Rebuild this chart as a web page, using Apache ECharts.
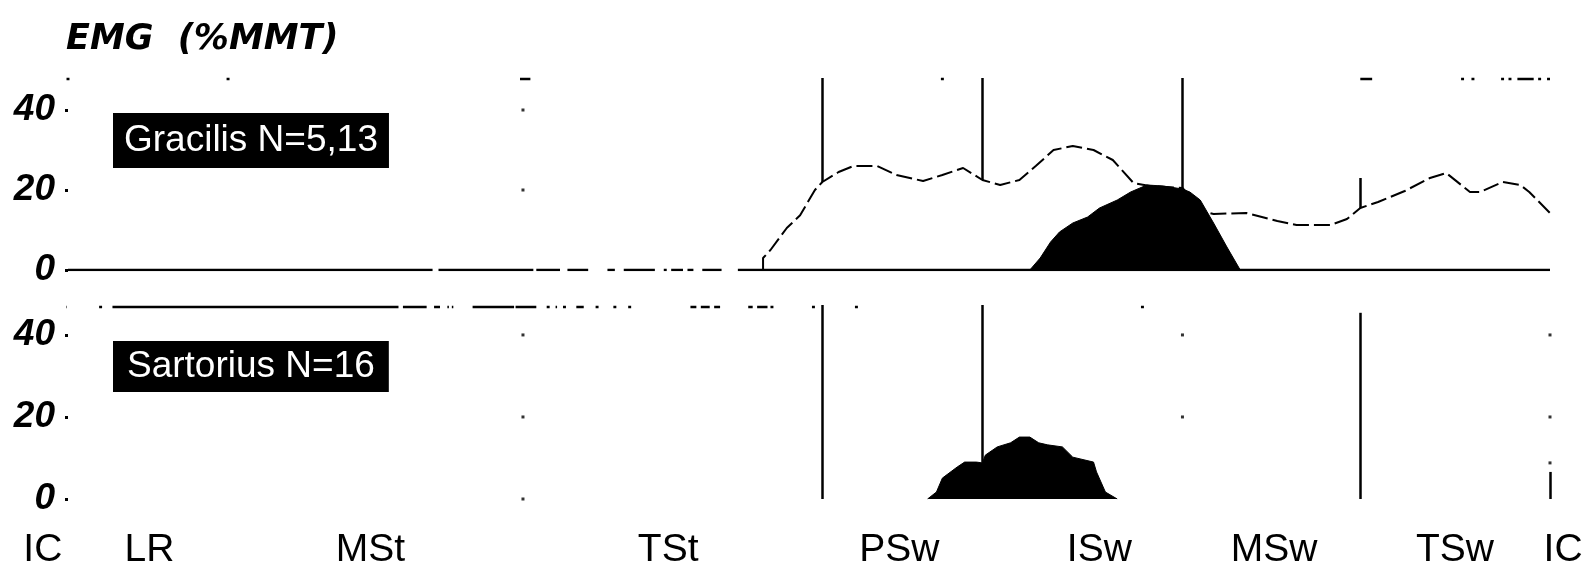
<!DOCTYPE html>
<html>
<head>
<meta charset="utf-8">
<script src="https://cdn.jsdelivr.net/npm/echarts@6/dist/echarts.min.js"></script>
<style>html,body{margin:0;padding:0;background:#fff}#c{width:1596px;height:570px}</style>
</head>
<body>
<div id="c"></div>
<script>
// ---- data (x = % gait cycle, y = EMG %MMT) ----
const phaseLabels = ['IC', 'LR', 'MSt', 'TSt', 'PSw', 'ISw', 'MSw', 'TSw', 'IC'];
const phaseLabelPos = [-1.7, 5.5, 20.4, 40.5, 56.1, 69.6, 81.4, 93.6, 100.9];
const yTicks = [0, 20, 40];

const gracilisLine = [
  [46.9, 0], [46.9, 3], [47.4, 5], [48.5, 10.5], [49.4, 13.7], [50.4, 20], [50.9, 22],
  [52, 24.5], [53, 26], [54.6, 26], [55.9, 23.75], [57.7, 22.25], [59, 23.75], [60.4, 25.5],
  [61.7, 22.5], [62.9, 21.25], [64.2, 22.5], [65.3, 26], [66.5, 30], [67.8, 31], [69.2, 30],
  [70.5, 27.5], [71.9, 21.75], [73, 21], [75.2, 20.5], [76.4, 15.5], [76.8, 14.5], [77.3, 14],
  [79.5, 14.25], [81.6, 12.25], [82.9, 11.25], [85.2, 11.25], [86.3, 12.75], [87.2, 15.5],
  [88.4, 17], [90.2, 19.75], [91.9, 23], [93, 24.25], [94.6, 19.5], [95.3, 19.5], [96.8, 22],
  [98, 21.25], [98.6, 19.5], [100, 14.25]
];
const gracilisArea = [
  [64.9, 0], [65.6, 3], [66.3, 7], [66.9, 9.5], [67.8, 11.75], [68.8, 13.25], [69.6, 15.5],
  [70.8, 17.5], [71.7, 19.5], [72.8, 21.25], [73.9, 21], [75.2, 20.25], [75.7, 19.5],
  [76.4, 17.5], [77.3, 11.75], [78.2, 5.75], [79.1, 0]
];
const sartoriusArea = [
  [58.0, 0], [58.6, 1.7], [59.0, 5.1], [60.0, 7.8], [60.5, 9], [61.3, 9], [61.7, 8.8],
  [61.9, 10.7], [62.7, 12.7], [63.6, 13.7], [64.2, 15.1], [64.9, 15.1], [65.5, 13.7],
  [66.1, 13.2], [67.1, 12.7], [67.8, 10.2], [69.2, 9], [69.4, 6.6], [70.0, 1.7], [70.8, 0]
];
// phase boundary lines: [x, yFrom, yTo]
const topBoundaryLines = [[50.9, 48, 22], [61.7, 48, 22.5], [75.2, 48, 20.5], [87.2, 23, 15.5]];
const bottomBoundaryLines = [[50.9, 47.3, 0], [61.7, 47.3, 8.8], [87.2, 45.4, 0], [100, 6.6, 0]];
// printed (partly faded) border / baseline pieces: [xFrom, xTo]
const topBaselinePieces = [[0, 24.6], [25, 31.4], [31.6, 33.2], [33.7, 35.1], [36.4, 36.9], [37.5, 39.6],
  [40.2, 40.4], [40.7, 41.5], [41.8, 42.2], [42.8, 44.1], [45.2, 100]];
const topBorderPieces = [[-0.1, 0.1], [10.7, 10.9], [30.5, 31.2], [58.9, 59.1], [87.2, 88.0], [94.0, 94.2],
  [94.7, 94.9], [96.7, 96.9], [97.2, 97.4], [97.8, 98.9], [99.2, 99.4], [99.8, 100]];
const bottomBorderPieces = [[-0.3, -0.1], [2.1, 2.3], [3.0, 22.3], [22.6, 24.2], [24.7, 25.1], [25.6, 25.7],
  [25.9, 26.0], [27.3, 30.1], [30.2, 31.6], [32.3, 32.5], [32.9, 33.0], [33.4, 33.6], [34.3, 34.8],
  [35.6, 35.8], [36.8, 37.0], [37.8, 38.0], [42.0, 42.4], [42.7, 43.3], [43.6, 44.0], [45.9, 46.2],
  [46.5, 47.2], [47.4, 47.6], [50.2, 50.4], [53.1, 53.3], [72.4, 72.6]];
const topBorderY = 47.75, bottomBorderY = 46.8;
const topDots = [[30.7, 40], [30.7, 20]];
const bottomDots = [[30.7, 40], [30.7, 20], [30.7, 0], [75.2, 40], [75.2, 20], [100, 40], [100, 20], [100, 8.8]];

// ---- build ----
function pieces(list, y) {
  const out = [];
  list.forEach(([a, b]) => { out.push([a, y], [b, y], [b, null]); });
  return out;
}
function vlines(list) {
  return list.map(([x, a, b]) => [{ coord: [x, a] }, { coord: [x, b] }]);
}
const BLACK = '#000';
const yLabelStyle = { fontFamily: 'Liberation Sans', fontWeight: 'bold', fontStyle: 'italic', fontSize: 37, color: BLACK, margin: 13 };
function yAxis(gridIndex, max) {
  return {
    type: 'value', gridIndex, min: 0, max, interval: 20,
    axisLine: { show: false }, splitLine: { show: false },
    axisTick: { show: true, length: 3, lineStyle: { width: 3, color: BLACK }, customValues: yTicks },
    axisLabel: Object.assign({ customValues: yTicks }, yLabelStyle)
  };
}
const hiddenX = (gridIndex) => ({ type: 'value', gridIndex, min: 0, max: 100, show: false });
const lineSeries = (xi, data, extra) => Object.assign({
  type: 'line', xAxisIndex: xi, yAxisIndex: xi, data, symbol: 'none', silent: true,
  connectNulls: false, lineStyle: { color: BLACK, width: 2 }, animation: false
}, extra || {});
const vStyle = { color: BLACK, width: 2.5, type: 'solid' };

const option = {
  backgroundColor: '#fff',
  animation: false,
  title: [
    { text: 'EMG  (%MMT)', left: 66, top: 22, padding: 0,
      textStyle: { fontFamily: 'DejaVu Sans', fontStyle: 'italic', fontWeight: 'bold', fontSize: 35, color: BLACK } },
    { text: 'Gracilis N=5,13', left: 113, top: 113, padding: [9, 11, 9, 11], backgroundColor: BLACK,
      textStyle: { fontFamily: 'Liberation Sans', fontWeight: 'normal', fontSize: 37, lineHeight: 37, color: '#fff' } },
    { text: 'Sartorius N=16', left: 113, top: 341, padding: [7, 14, 7, 14], backgroundColor: BLACK,
      textStyle: { fontFamily: 'Liberation Sans', fontWeight: 'normal', fontSize: 37, lineHeight: 37, color: '#fff' } }
  ],
  grid: [
    { left: 68, right: 46, top: 78, height: 192 },
    { left: 68, right: 46, top: 305, height: 194 },
    { left: 31, right: 24, top: 499, height: 1 }
  ],
  xAxis: [
    hiddenX(0), hiddenX(1),
    { type: 'value', gridIndex: 2, min: -2.5, max: 101.5,
      axisLine: { show: false }, axisTick: { show: false }, splitLine: { show: false },
      axisLabel: { customValues: phaseLabelPos, margin: 31, color: BLACK,
        fontFamily: 'Liberation Sans Narrow, Liberation Sans, Arial', fontSize: 39,
        formatter: (v) => { const i = phaseLabelPos.indexOf(v); return i >= 0 ? phaseLabels[i] : ''; } } }
  ],
  yAxis: [
    yAxis(0, 48), yAxis(1, 47.3),
    { type: 'value', gridIndex: 2, show: false }
  ],
  series: [
    // top panel (Gracilis)
    lineSeries(0, gracilisArea, { lineStyle: { color: BLACK, width: 1 }, areaStyle: { color: BLACK, opacity: 1 } }),
    lineSeries(0, pieces(topBaselinePieces, 0), { lineStyle: { color: BLACK, width: 2.5 } }),
    lineSeries(0, pieces(topBorderPieces, topBorderY), { lineStyle: { color: BLACK, width: 2.5 } }),
    lineSeries(0, gracilisLine, { lineStyle: { color: BLACK, width: 2, type: [16, 5] },
      markLine: { silent: true, symbol: 'none', label: { show: false }, animation: false,
        lineStyle: vStyle, data: vlines(topBoundaryLines) } }),
    { type: 'scatter', xAxisIndex: 0, yAxisIndex: 0, data: topDots, symbol: 'rect', symbolSize: 3,
      itemStyle: { color: BLACK }, silent: true, animation: false },
    // bottom panel (Sartorius)
    lineSeries(1, sartoriusArea, { lineStyle: { color: BLACK, width: 1 }, areaStyle: { color: BLACK, opacity: 1 },
      markLine: { silent: true, symbol: 'none', label: { show: false }, animation: false,
        lineStyle: vStyle, data: vlines(bottomBoundaryLines) } }),
    lineSeries(1, pieces(bottomBorderPieces, bottomBorderY), { lineStyle: { color: BLACK, width: 2.5 } }),
    { type: 'scatter', xAxisIndex: 1, yAxisIndex: 1, data: bottomDots, symbol: 'rect', symbolSize: 3,
      itemStyle: { color: BLACK }, silent: true, animation: false }
  ]
};
const chart = echarts.init(document.getElementById('c'), null, { renderer: 'canvas' });
chart.setOption(option);
</script>
</body>
</html>
